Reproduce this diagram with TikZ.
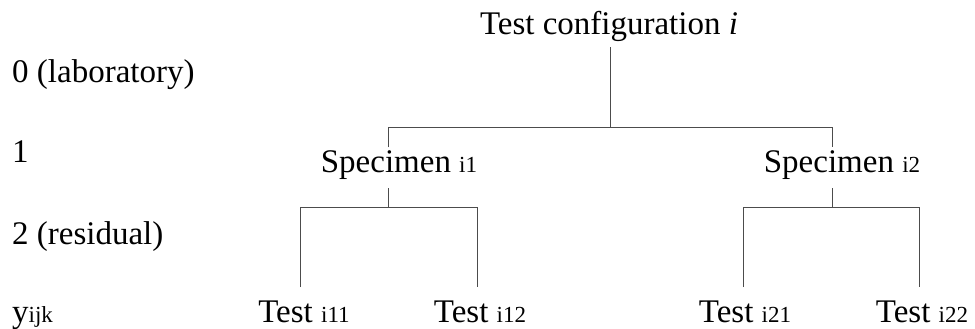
\documentclass[tikz,border=0pt]{standalone}
\usepackage{fontspec}
\setmainfont{Liberation Serif}
\newcommand\smtxt[1]{{\fontsize{23pt}{23pt}\selectfont #1}}
\tikzset{
  lbl/.style={inner sep=0pt, anchor=base, font=\fontsize{33pt}{36pt}\selectfont},
  lvl/.style={lbl, anchor=base west},
  tree/.style={draw=black!70, line width=1pt}
}
\begin{document}
\begin{tikzpicture}[x=1pt,y=-1pt]
\useasboundingbox (0,0) rectangle (975,329);
% level labels
\node[lvl] (l0) at (12,82) {0 (laboratory)};
\node[lvl] (l1) at (12,162) {1};
\node[lvl] (l2) at (12,244) {2 (residual)};
\node[lvl] (l3) at (12,322) {y\smtxt{ijk}};
% tree nodes
\node[lbl] (top) at (609,35) {Test configuration \textit{i}};
\node[lbl] (s1) at (399,172) {Specimen \smtxt{i1}};
\node[lbl] (s2) at (842,172) {Specimen \smtxt{i2}};
\node[lbl] (t11) at (304,322) {Test \smtxt{i11}};
\node[lbl] (t12) at (480,322) {Test \smtxt{i12}};
\node[lbl] (t21) at (745,322) {Test \smtxt{i21}};
\node[lbl] (t22) at (922,322) {Test \smtxt{i22}};
% junction points
\coordinate (j0) at (610,127);
\coordinate (j1) at (388,127);
\coordinate (j2) at (832,127);
\coordinate (k1) at (388,207);
\coordinate (k11) at (300,207);
\coordinate (k12) at (477,207);
\coordinate (k2) at (832,207);
\coordinate (k21) at (743,207);
\coordinate (k22) at (919,207);
% connectors
\path[tree] ([yshift=-5pt]top.south -| j0) -- (j0);
\path[tree] ([yshift=2.5pt]s1.north -| j1) -- (j1) -- (j2) -- ([yshift=2.5pt]s2.north -| j2);
\path[tree] ([yshift=-9pt]s1.south -| k1) -- (k1);
\path[tree] ([yshift=13pt]t11.north -| k11) -- (k11) -- (k12) -- ([yshift=13pt]t12.north -| k12);
\path[tree] ([yshift=-9pt]s2.south -| k2) -- (k2);
\path[tree] ([yshift=13pt]t21.north -| k21) -- (k21) -- (k22) -- ([yshift=13pt]t22.north -| k22);
\end{tikzpicture}
\end{document}
